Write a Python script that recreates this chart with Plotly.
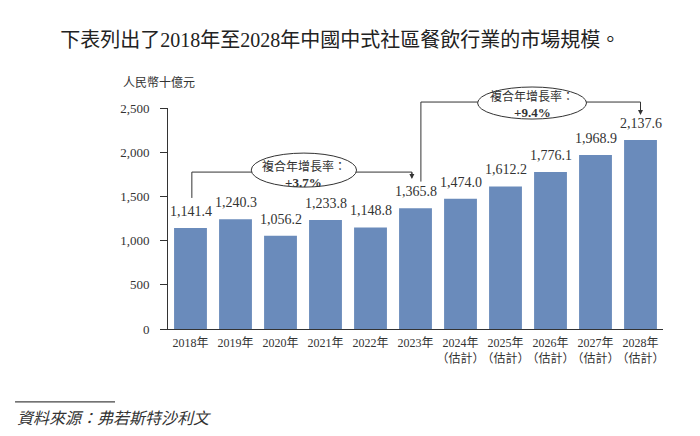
import plotly.graph_objects as go

years = ["2018年", "2019年", "2020年", "2021年", "2022年", "2023年",
         "2024年<br>（估計）", "2025年<br>（估計）", "2026年<br>（估計）",
         "2027年<br>（估計）", "2028年<br>（估計）"]
values = [1141.4, 1240.3, 1056.2, 1233.8, 1148.8, 1365.8,
          1474.0, 1612.2, 1776.1, 1968.9, 2137.6]
cagr_title = "複合年增長率："
cagr_rates = ["+3.7%", "+9.4%"]
title_text = "下表列出了2018年至2028年中國中式社區餐飲行業的市場規模。"
unit_text = "人民幣十億元"
source_text = "資料來源：弗若斯特沙利文"

SERIF = "Liberation Serif, Noto Sans CJK TC, serif"
SANS = "Noto Sans CJK TC, sans-serif"
BAR = "#6A8BBB"
TXT = "#333333"
LINE = "#333333"

# page body has an 8px default margin; the figure is sized to fit inside the window
W, H = 692, 428

xs = list(range(len(years)))

fig = go.Figure()
fig.add_trace(go.Bar(
    x=xs, y=values, marker_color=BAR, marker_line_width=0,
    cliponaxis=False, hoverinfo="skip"))

shapes = []
def seg(x0, y0, x1, y1):
    shapes.append(dict(type="line", xref="x", yref="paper", x0=x0, y0=y0, x1=x1, y1=y1,
                       line=dict(color=LINE, width=1)))

# left bracket (2018 -> 2023)
seg(0.03, 0.593, 0.03, 0.710)
seg(0.03, 0.710, 4.92, 0.710)
seg(4.92, 0.710, 4.92, 0.690)
# right bracket (2023 -> 2028)
seg(5.12, 0.667, 5.12, 1.027)
seg(5.12, 1.027, 10.0, 1.027)
seg(10.0, 1.027, 10.0, 0.985)
# ellipses
shapes.append(dict(type="circle", xref="x", yref="paper", x0=1.35, x1=3.69, y0=0.642, y1=0.796,
                   line=dict(color=LINE, width=1), fillcolor="white"))
shapes.append(dict(type="circle", xref="x", yref="paper", x0=6.38, x1=8.80, y0=0.95, y1=1.095,
                   line=dict(color=LINE, width=1), fillcolor="white"))
# source rule
shapes.append(dict(type="line", xref="paper", yref="paper", x0=-0.309, x1=-0.107, y0=-0.330, y1=-0.330,
                   line=dict(color="#444444", width=1.2)))

annotations = [
    dict(x=4.92, y=0.679, xref="x", yref="paper", ax=0, ay=-8, text="", showarrow=True,
         arrowhead=2, arrowsize=1, arrowwidth=1, arrowcolor=LINE),
    dict(x=10.0, y=0.968, xref="x", yref="paper", ax=0, ay=-10, text="", showarrow=True,
         arrowhead=2, arrowsize=1, arrowwidth=1, arrowcolor=LINE),
    dict(x=-0.095, y=1.118, xref="paper", yref="paper", xanchor="left", yanchor="middle",
         text=unit_text, showarrow=False, font=dict(family=SANS, size=12, color=TXT)),
    dict(x=-0.309, y=-0.398, xref="paper", yref="paper", xanchor="left", yanchor="middle",
         text="<i>" + source_text + "</i>", showarrow=False,
         font=dict(family=SANS, size=16, color=TXT)),
]
# CAGR texts
for cx, cy, rate in [(2.52, 0.697, cagr_rates[0]), (7.59, 1.014, cagr_rates[1])]:
    annotations.append(dict(x=cx, y=cy, xref="x", yref="paper", yanchor="bottom", yshift=-1,
                            text=cagr_title, showarrow=False,
                            font=dict(family=SANS, size=12, color=TXT)))
    annotations.append(dict(x=cx, y=cy, xref="x", yref="paper", yanchor="top", yshift=2,
                            text="<b>" + rate + "</b>", showarrow=False,
                            font=dict(family=SERIF, size=13, color=TXT)))
# value labels
for x, v in zip(xs, values):
    annotations.append(dict(x=x, y=v, xref="x", yref="y", yanchor="bottom", yshift=7,
                            text=f"{v:,.1f}", showarrow=False,
                            font=dict(family=SERIF, size=14, color=TXT)))

fig.update_layout(
    width=W, height=H,
    margin=dict(l=160, r=37, t=100, b=107, autoexpand=False),
    paper_bgcolor="white", plot_bgcolor="white",
    bargap=0.27, showlegend=False,
    title=dict(text=title_text, x=0.48, y=1 - 32 / H, xanchor="center", yanchor="middle",
               font=dict(family=SERIF, size=20, color="#222222")),
    shapes=shapes, annotations=annotations,
    xaxis=dict(tickmode="array", tickvals=xs, ticktext=years, range=[-0.5, 10.5],
               tickangle=0, automargin=False, ticklabelstandoff=3,
               showline=True, linecolor=LINE, linewidth=1, ticks="", showgrid=False,
               tickfont=dict(family=SERIF, size=12, color=TXT), fixedrange=True),
    yaxis=dict(range=[0, 2500], tickvals=[0, 500, 1000, 1500, 2000, 2500], tickformat=",",
               automargin=False, ticklabelstandoff=8,
               showline=True, linecolor=LINE, linewidth=1, ticks="outside", ticklen=7,
               tickcolor=LINE, showgrid=False, zeroline=False,
               tickfont=dict(family=SERIF, size=13, color=TXT), fixedrange=True),
)

fig.write_html("out.html")
